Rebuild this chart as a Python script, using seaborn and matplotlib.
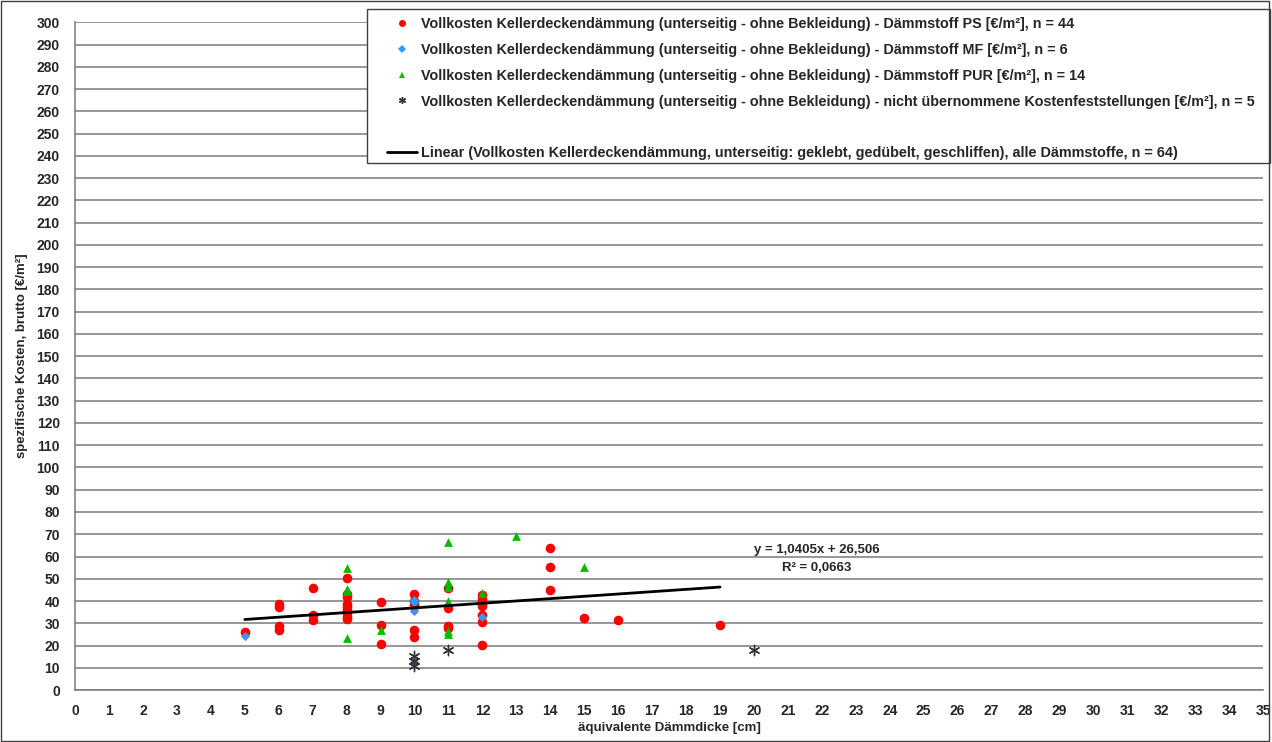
import matplotlib
matplotlib.use("Agg")
import matplotlib.pyplot as plt
import numpy as np
import pandas as pd
import seaborn as sns
from matplotlib.lines import Line2D

# --------------------------------------------
# DATA
# --------------------------------------------
PS_X = [5, 6, 6, 6, 6, 7, 7, 7,
        8, 8, 8, 8, 8, 8, 8, 8, 8,
        9, 9, 9,
        10, 10, 10, 10, 10, 10,
        11, 11, 11, 11,
        12, 12, 12, 12, 12, 12, 12, 12,
        14, 14, 14, 15, 16, 19]
PS_Y = [26, 38.7, 37.2, 29, 27.2, 46, 33.9, 31.3,
        50.3, 43, 42, 38.7, 37.2, 36, 34.6, 33, 31.9,
        39.6, 29.1, 20.7,
        43.1, 40, 38.8, 37.6, 26.9, 23.9,
        45.8, 36.9, 29, 28,
        42.8, 40.9, 39.9, 38.5, 37.6, 33.9, 30.4, 20.1,
        64, 55.5, 45.1, 32.2, 31.5, 29.3]

MF_X = [5, 10, 10, 10, 10, 12]
MF_Y = [24.2, 40.6, 39.5, 35.7, 12.7, 32.7]

PUR_X = [8, 8, 8, 8, 9, 11, 11, 11, 11, 11, 11, 12, 13, 15]
PUR_Y = [54.8, 45.4, 44.3, 23.4, 26.9, 66.7, 48.4, 46.5, 39.9, 26.4, 25.4,
         43.6, 69.4, 55.5]

NU_X = [10, 10, 10, 11, 20]
NU_Y = [15.2, 13, 11, 17.9, 18.2]

TREND_SLOPE = 1.0405
TREND_INTERCEPT = 26.506

LABELS = [
    "Vollkosten Kellerdeckendämmung (unterseitig - ohne Bekleidung) - Dämmstoff PS [€/m²], n = 44",
    "Vollkosten Kellerdeckendämmung (unterseitig - ohne Bekleidung) - Dämmstoff MF [€/m²], n = 6",
    "Vollkosten Kellerdeckendämmung (unterseitig - ohne Bekleidung) - Dämmstoff PUR [€/m²], n = 14",
    "Vollkosten Kellerdeckendämmung (unterseitig - ohne Bekleidung) - nicht übernommene Kostenfeststellungen [€/m²], n = 5",
]
TREND_LABEL = ("Linear (Vollkosten Kellerdeckendämmung, unterseitig: geklebt, "
               "gedübelt, geschliffen), alle Dämmstoffe, n = 64)")

GROUPS = ["PS", "MF", "PUR", "NU"]
COLORS = {"PS": "#ff0000", "MF": "#3399ff", "PUR": "#00bb00", "NU": "#333333"}
MARKERS = {"PS": "o", "MF": "D", "PUR": "^", "NU": (6, 2, 0)}
SIZES = {"PS": 48, "MF": 22, "PUR": 40, "NU": 55}


def build_df():
    parts = []
    for g, xs, ys in [("PS", PS_X, PS_Y), ("MF", MF_X, MF_Y),
                      ("PUR", PUR_X, PUR_Y), ("NU", NU_X, NU_Y)]:
        parts.append(pd.DataFrame({"x": xs, "y": ys, "group": g}))
    return pd.concat(parts, ignore_index=True)


def main():
    sns.set_style("white")
    plt.rcParams["font.family"] = ["Liberation Sans", "DejaVu Sans"]
    plt.rcParams["font.weight"] = "bold"

    df = build_df()

    fig = plt.figure(figsize=(12.72, 7.42), dpi=100)
    ax = fig.add_axes([0.059, 0.070, 0.934, 0.900])

    for g in GROUPS:
        sub = df[df["group"] == g]
        lw = 1.0 if g == "NU" else 0
        sns.scatterplot(data=sub, x="x", y="y", ax=ax, color=COLORS[g],
                        marker=MARKERS[g], s=SIZES[g], linewidth=lw,
                        edgecolor=COLORS[g], zorder=3, legend=False)

    # trend line over all materials
    xs_all = np.array(PS_X + MF_X + PUR_X)
    tx = np.array([xs_all.min(), xs_all.max()])
    sns.lineplot(x=tx, y=TREND_SLOPE * tx + TREND_INTERCEPT, ax=ax,
                 color="black", linewidth=2, zorder=4)

    ax.text(21.85, 63.0, "y = 1,0405x + 26,506", ha="center", va="center",
            fontsize=9.5, fontweight="bold")
    ax.text(21.85, 55.0, "R² = 0,0663", ha="center", va="center",
            fontsize=9.5, fontweight="bold")

    ax.set_xlim(0, 35)
    ax.set_ylim(0, 300)
    ax.set_xticks(range(0, 36))
    ax.set_yticks(range(0, 301, 10))
    ax.yaxis.grid(True, color="#7a7a7a", linewidth=1.1)
    ax.xaxis.grid(False)
    ax.set_axisbelow(True)
    for side in ["top", "right"]:
        ax.spines[side].set_visible(False)
    for side in ["left", "bottom"]:
        ax.spines[side].set_color("#7a7a7a")
        ax.spines[side].set_linewidth(1.1)
    ax.tick_params(axis="x", direction="inout", length=8, color="#404040",
                   labelsize=10, pad=6)
    ax.tick_params(axis="y", direction="out", length=5, color="#7a7a7a",
                   labelsize=10, pad=6)
    for lab in ax.get_xticklabels() + ax.get_yticklabels():
        lab.set_fontweight("bold")

    ax.set_xlabel("äquivalente Dämmdicke [cm]", fontsize=9.5,
                  fontweight="bold", labelpad=3)
    ax.set_ylabel("spezifische Kosten, brutto [€/m²]", fontsize=9.5,
                  fontweight="bold", labelpad=6)

    # legend box drawn separately so the entries can sit inset like Excel
    box_l, box_r = 367 / 1272, 1270 / 1272
    box_t, box_b = 1 - 9 / 742, 1 - 163 / 742
    ax.add_patch(plt.Rectangle((box_l, box_b), box_r - box_l, box_t - box_b,
                               transform=fig.transFigure, clip_on=False,
                               facecolor="white", edgecolor="#404040",
                               linewidth=1, zorder=5))

    handles = []
    for g in GROUPS:
        handles.append(Line2D([], [], linestyle="none", marker=MARKERS[g],
                              color=COLORS[g], markersize=5 if g != "MF" else 4,
                              markeredgewidth=1 if g == "NU" else 0))
    blank = Line2D([], [], linestyle="none")
    handles += [blank, Line2D([], [], color="black", linewidth=2)]
    labels = LABELS + [" ", TREND_LABEL]
    leg = ax.legend(handles, labels, loc="upper left",
                    bbox_to_anchor=(387 / 1272, 1 - 17 / 742),
                    bbox_transform=fig.transFigure, frameon=False,
                    labelspacing=0.82, handlelength=2.1, handletextpad=0.25,
                    borderpad=0, borderaxespad=0,
                    prop={"weight": "bold", "size": 10.4})
    leg.set_zorder(6)

    # outer chart frame
    fig.patches.append(plt.Rectangle((0.001, 0.001), 0.997, 0.997,
                                     transform=fig.transFigure, fill=False,
                                     edgecolor="#404040", linewidth=1))

    fig.savefig("out.png", dpi=100)
    plt.close(fig)


if __name__ == "__main__":
    main()
